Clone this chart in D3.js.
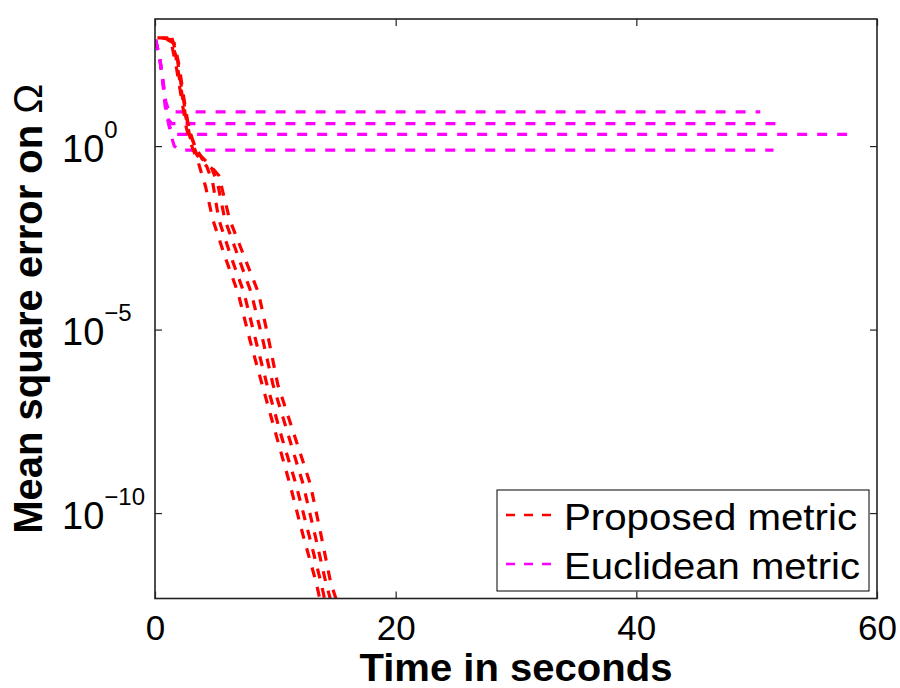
<!DOCTYPE html>
<html>
<head>
<meta charset="utf-8">
<script src="https://cdn.jsdelivr.net/npm/d3@7"></script>
<style>
  body { margin: 0; background: #fff; }
  text { font-family: "Liberation Sans", Arial, Helvetica, sans-serif; }
</style>
</head>
<body>
<div id="chart"></div>
<script>
// tick values and labels
const xTicks = [0, 20, 40, 60];
const yTicks = [1e-10, 1e-5, 1];
const yTickExps = ["\u221210", "\u22125", "0"];

const legendNames = ["Proposed metric", "Euclidean metric"];
const seriesColors = ["#ff0000", "#ff00ff"];

// Proposed metric runs: [time (s), mean square error]
const proposed1 = [[0.2, 890], [1.0, 890], [1.4, 562], [1.8, 126], [2.2, 20], [2.6, 3.16], [3.0, 1.12],
  [3.6, 0.355], [4.2, 0.079], [4.8, 0.01], [5.8, 1e-3], [6.9, 1e-4], [7.9, 5e-6], [8.9, 3.2e-7],
  [10.0, 1.6e-8], [11.2, 6.3e-10], [12.3, 2.5e-11], [13.4, 1.26e-12], [13.8, 3.2e-13]];
const proposed2 = [[0.6, 890], [1.3, 794], [1.7, 316], [2.1, 50], [2.5, 7.9], [2.9, 1.78], [3.5, 0.56],
  [4.3, 0.28], [4.8, 0.1], [5.3, 0.01], [6.3, 1e-3], [7.4, 1e-4], [8.3, 6.3e-6], [9.3, 3.2e-7],
  [10.5, 1.26e-8], [11.7, 6.3e-10], [12.8, 2.5e-11], [13.8, 1.26e-12], [14.2, 3.2e-13]];
const proposed3 = [[1.0, 794], [1.6, 631], [2.0, 158], [2.4, 20], [2.8, 3.16], [3.2, 1.26], [3.9, 0.45],
  [4.7, 0.25], [5.2, 0.1], [5.8, 0.01], [6.9, 1e-3], [8.0, 1e-4], [8.9, 6.3e-6], [9.8, 3.2e-7],
  [11.1, 1.26e-8], [12.3, 6.3e-10], [13.3, 2.5e-11], [14.2, 1.26e-12], [14.7, 3.2e-13]];
const proposed4 = [[1.4, 890], [1.8, 316], [2.2, 40], [2.6, 6.3], [3.0, 1.78], [3.6, 0.63], [4.5, 0.316],
  [5.3, 0.158], [6.2, 0.01], [7.4, 1e-3], [8.6, 1e-4], [9.4, 6.3e-6], [10.2, 3.2e-7],
  [11.6, 1.26e-8], [12.9, 6.3e-10], [13.8, 2.5e-11], [14.6, 1.26e-12], [15.2, 3.2e-13]];

// Euclidean metric runs
const euclid1 = [[0.05, 794], [0.4, 251], [0.7, 50], [0.9, 15.8], [1.2, 8.5], [50.3, 8.5]];
const euclid2 = [[0.05, 794], [0.4, 240], [0.7, 45], [0.9, 12.6], [1.15, 5.0], [1.4, 4.07], [52.0, 4.07]];
const euclid3 = [[0.05, 760], [0.4, 240], [0.7, 42], [0.95, 10], [1.2, 3.5], [1.5, 2.09], [57.6, 2.09]];
const euclid4 = [[0.05, 760], [0.4, 230], [0.67, 46], [0.83, 13.2], [1.1, 4.5], [1.4, 1.66], [1.6, 1.0],
  [2.0, 0.776], [51.4, 0.776]];

const proposedRuns = [proposed1, proposed2, proposed3, proposed4];
const euclidRuns = [euclid1, euclid2, euclid3, euclid4];

const margin = { top: 19, right: 23, bottom: 89.5, left: 155 };
const width = 900 - margin.left - margin.right;
const height = 688 - margin.top - margin.bottom;

const svg = d3.select("#chart")
  .append("svg")
  .attr("width", 900)
  .attr("height", 688)
  .append("g")
  .attr("transform", `translate(${margin.left},${margin.top})`);

const xScale = d3.scaleLinear().domain([0, 60]).range([0, width]);
const yScale = d3.scaleLog().domain([4.7e-13, 2.9e3]).range([height, 0]);

svg.append("clipPath").attr("id", "plot-clip")
  .append("rect").attr("width", width).attr("height", height);

const line = d3.line()
  .x((d) => xScale(d[0]))
  .y((d) => yScale(d[1]));

const plot = svg.append("g").attr("clip-path", "url(#plot-clip)");

// Euclidean first, proposed drawn on top
euclidRuns.forEach((run) => {
  plot.append("path").datum(run)
    .attr("d", line)
    .attr("fill", "none")
    .attr("stroke", seriesColors[1])
    .attr("stroke-width", 3.2)
    .attr("stroke-dasharray", "10,10");
});
proposedRuns.forEach((run) => {
  plot.append("path").datum(run)
    .attr("d", line)
    .attr("fill", "none")
    .attr("stroke", seriesColors[0])
    .attr("stroke-width", 3.2)
    .attr("stroke-dasharray", "10,10");
});

// Axes with inward ticks
const xAxis = svg.append("g")
  .attr("transform", `translate(0,${height})`)
  .call(d3.axisBottom(xScale).tickValues(xTicks).tickSize(-7).tickSizeOuter(0));
xAxis.selectAll("text")
  .attr("y", 41)
  .attr("dy", null)
  .attr("font-size", 35)
  .attr("fill", "#000")
  .style("font-family", "'Liberation Sans', Arial, sans-serif");

svg.append("g")
  .call(d3.axisTop(xScale).tickValues(xTicks).tickSize(-7).tickSizeOuter(0).tickFormat(""));

const yAxis = svg.append("g")
  .call(d3.axisLeft(yScale).tickValues(yTicks).tickSize(-7).tickSizeOuter(0).tickFormat(""));

svg.append("g")
  .attr("transform", `translate(${width},0)`)
  .call(d3.axisRight(yScale).tickValues(yTicks).tickSize(-7).tickSizeOuter(0).tickFormat(""));

svg.selectAll(".domain").remove();
svg.selectAll(".tick line").attr("stroke", "#222").attr("stroke-width", 1.2);

// y tick labels: 10 with superscript exponent
yAxis.selectAll(".tick").each(function (d, i) {
  const t = d3.select(this).append("text")
    .attr("x", -93)
    .attr("y", 15)
    .attr("text-anchor", "start")
    .attr("fill", "#000")
    .attr("font-size", 38);
  t.append("tspan").text("10");
  t.append("tspan").attr("dy", -24).attr("font-size", 24).text(yTickExps[i]);
});

// frame
svg.append("rect")
  .attr("width", width)
  .attr("height", height)
  .attr("fill", "none")
  .attr("stroke", "#222")
  .attr("stroke-width", 1.6);

// axis titles
svg.append("text")
  .attr("x", width / 2)
  .attr("y", 662)
  .attr("text-anchor", "middle")
  .attr("font-size", 38)
  .attr("font-weight", "bold")
  .attr("textLength", 313)
  .attr("lengthAdjust", "spacingAndGlyphs")
  .text("Time in seconds");

const yLabel = svg.append("text")
  .attr("transform", `translate(${42 - margin.left},${height / 2}) rotate(-90)`)
  .attr("text-anchor", "middle")
  .attr("font-size", 40)
  .attr("font-weight", "bold");
yLabel.append("tspan").text("Mean square error on ");
yLabel.append("tspan").attr("font-weight", "normal").text("\u03a9");

// legend
const legend = svg.append("g").attr("transform", `translate(${497 - margin.left},${490 - margin.top})`);
legend.append("rect")
  .attr("width", 372)
  .attr("height", 101)
  .attr("fill", "#fff")
  .attr("stroke", "#000")
  .attr("stroke-width", 1);

legendNames.forEach((name, i) => {
  const y = 25 + i * 49;
  legend.append("line")
    .attr("x1", 9).attr("x2", 60)
    .attr("y1", y).attr("y2", y)
    .attr("stroke", seriesColors[i])
    .attr("stroke-width", 2.6)
    .attr("stroke-dasharray", "9,9");
  legend.append("text")
    .attr("x", 67)
    .attr("y", y + 15)
    .attr("font-size", 37)
    .attr("textLength", i === 0 ? 293 : 296)
    .attr("lengthAdjust", "spacingAndGlyphs")
    .text(name);
});
</script>
</body>
</html>
